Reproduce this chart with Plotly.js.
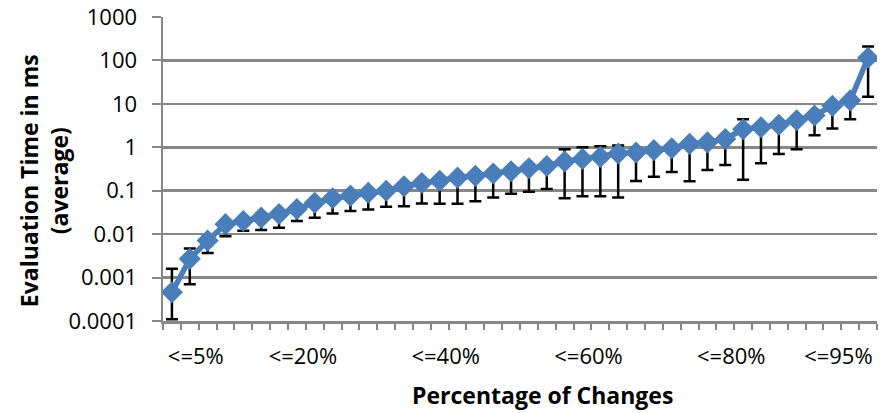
<!DOCTYPE html>
<html>
<head>
<meta charset="utf-8">
<script src="https://cdn.plot.ly/plotly-3.0.1.min.js"></script>
<style>html,body{margin:0;padding:0;background:#fff;}#chart{width:880px;height:413px;}</style>
</head>
<body>
<div id="chart"></div>
<script>
// 40 categories, 2.5% steps
const categories = ['<=2.5%','<=5%','<=7.5%','<=10%','<=12.5%','<=15%','<=17.5%','<=20%','<=22.5%','<=25%',
  '<=27.5%','<=30%','<=32.5%','<=35%','<=37.5%','<=40%','<=42.5%','<=45%','<=47.5%','<=50%',
  '<=52.5%','<=55%','<=57.5%','<=60%','<=62.5%','<=65%','<=67.5%','<=70%','<=72.5%','<=75%',
  '<=77.5%','<=80%','<=82.5%','<=85%','<=87.5%','<=90%','<=92.5%','<=95%','<=97.5%','<=100%'];
// average evaluation time (ms)
const avgTime = [0.00046,0.0027,0.0071,0.017,0.020,0.024,0.029,0.038,0.053,0.067,
  0.077,0.09,0.10,0.127,0.15,0.17,0.20,0.22,0.25,0.28,
  0.33,0.37,0.47,0.54,0.60,0.72,0.76,0.86,0.95,1.2,
  1.3,1.55,2.6,2.9,3.3,4.2,5.4,9.0,12,115];
// lower end of error bars
const lowTime = [0.00011,0.0007,0.0037,0.009,0.012,0.0125,0.014,0.02,0.024,0.03,
  0.034,0.037,0.043,0.044,0.051,0.05,0.05,0.057,0.07,0.085,
  0.095,0.11,0.067,0.075,0.075,0.07,0.167,0.21,0.27,0.165,
  0.3,0.39,0.18,0.43,0.7,0.9,1.9,2.7,4.4,14.5];
// upper end of error bars
const highTime = [0.0016,0.0047,0.009,0.02,0.024,0.03,0.035,0.045,0.06,0.075,
  0.085,0.1,0.115,0.14,0.17,0.19,0.22,0.25,0.28,0.33,
  0.4,0.42,0.9,1.0,1.05,1.1,0.9,1.0,1.1,1.4,
  1.5,1.8,4.4,3.3,3.8,4.8,6.2,10,14,210];
const shownLabels = ['<=5%','<=20%','<=40%','<=60%','<=80%','<=95%'];
const yTickVals = [0.0001,0.001,0.01,0.1,1,10,100,1000];
const yTickText = ['0.0001','0.001','0.01','0.1','1','10','100','1000'];

const xIdx = categories.map((c,i)=>i+1);
const plus = highTime.map((h,i)=>h-avgTime[i]);
const minus = lowTime.map((l,i)=>avgTime[i]-l);
const grey = '#878787';
const blue = '#4a7ebb';

const traces = [
  {x:xIdx, y:avgTime, type:'scatter', mode:'markers', hoverinfo:'skip',
   marker:{size:2, color:'rgba(0,0,0,0)'},
   error_y:{type:'data', symmetric:false, array:plus, arrayminus:minus, color:'#000', thickness:2.5, width:6},
   showlegend:false},
  {x:xIdx, y:avgTime, type:'scatter', mode:'lines+markers',
   line:{color:blue, width:5.5},
   marker:{symbol:'diamond', size:17, color:blue},
   showlegend:false}
];

const layout = {
  width:880, height:413,
  margin:{l:163, r:3, t:17, b:92},
  paper_bgcolor:'#fff', plot_bgcolor:'#fff',
  font:{family:'"Open Sans", sans-serif', color:'#000'},
  xaxis:{range:[0.5,40.5], showgrid:false, zeroline:false,
    showline:true, linecolor:grey, linewidth:2.5,
    tickmode:'array', tickvals:shownLabels.map(l=>categories.indexOf(l)+1), ticktext:shownLabels,
    ticks:'', ticklabelshift:6, ticklabelstandoff:14,
    tickfont:{size:22, family:'"Open Sans", sans-serif', color:'#000'},
    minor:{tick0:0.5, dtick:1, ticks:'outside', ticklen:6, tickwidth:2, tickcolor:grey, showgrid:false}},
  yaxis:{type:'log', range:[-4,3], tickmode:'array', tickvals:yTickVals, ticktext:yTickText,
    showgrid:true, gridcolor:grey, gridwidth:2.5, zeroline:false,
    showline:true, linecolor:grey, linewidth:2.5,
    ticks:'outside', ticklen:9, tickwidth:2, tickcolor:grey, ticklabelstandoff:10,
    tickfont:{size:22, family:'"Open Sans", sans-serif', color:'#000'}},
  annotations:[
    {text:'<b>Evaluation Time in ms</b><br><b>(average)</b>', xref:'paper', yref:'paper',
     x:(44-163)/714, y:0.46, xanchor:'center', yanchor:'middle', textangle:-90, showarrow:false,
     font:{size:23, family:'"Open Sans", sans-serif', color:'#000'}},
    {text:'<b>Percentage of Changes</b>', xref:'paper', yref:'paper',
     x:(542-163)/714, y:(321-395)/304, xanchor:'center', yanchor:'middle', showarrow:false,
     font:{size:23, family:'"Open Sans", sans-serif', color:'#000'}}
  ]
};
Plotly.newPlot('chart', traces, layout, {displayModeBar:false, staticPlot:true});
</script>
</body>
</html>
